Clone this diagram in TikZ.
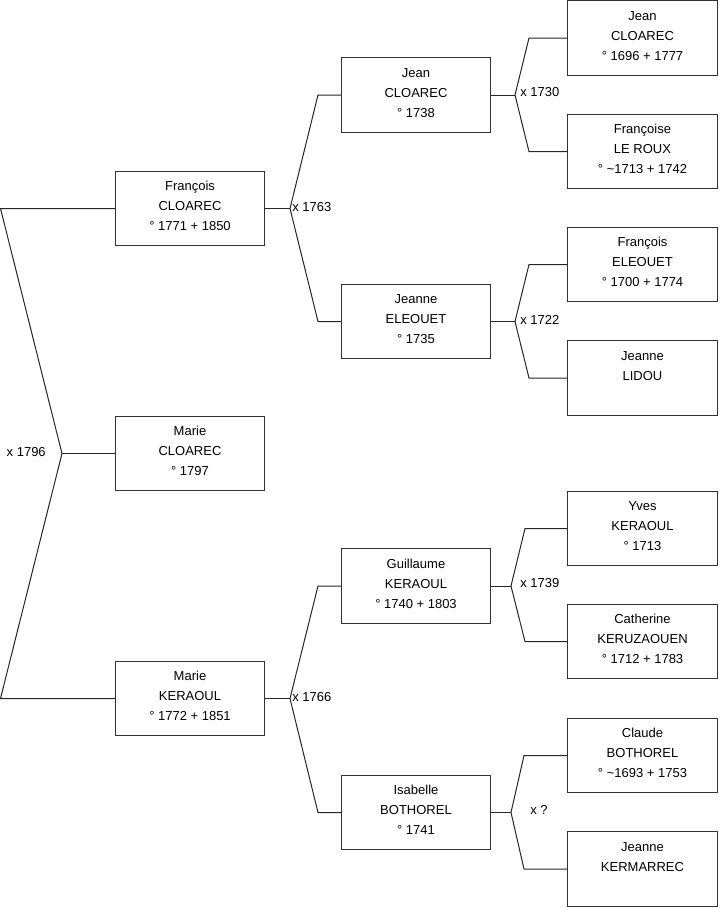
\documentclass[tikz,border=0pt]{standalone}
\usepackage{fontspec}
\setmainfont{Liberation Sans}
\begin{document}
\begin{tikzpicture}[x=0.75pt,y=-0.75pt,
  pbox/.style={draw=black!80,line width=0.8pt,minimum width=112pt,minimum height=56pt,
    align=center,inner sep=0pt,text depth=3.6pt,font=\fontsize{9.75}{15}\selectfont,fill=white},
  conn/.style={draw=black!85,line width=0.75pt},
  mlabel/.style={font=\fontsize{9.75}{15}\selectfont,inner sep=0pt}]
\useasboundingbox (0,0) rectangle (719,908);
% generation 1
\node[pbox] (fc) at (190,208.5) {François\\CLOAREC\\° 1771 + 1850};
\node[pbox] (mc) at (190,453.5) {Marie\\CLOAREC\\° 1797};
\node[pbox] (mk) at (190,698.5) {Marie\\KERAOUL\\° 1772 + 1851};
% generation 2
\node[pbox] (jc) at (416,95) {Jean\\CLOAREC\\° 1738};
\node[pbox] (je) at (416,321.5) {Jeanne\\ELEOUET\\° 1735};
\node[pbox] (gk) at (416,586) {Guillaume\\KERAOUL\\° 1740 + 1803};
\node[pbox] (ib) at (416,812.5) {Isabelle\\BOTHOREL\\° 1741};
% generation 3
\node[pbox] (jc2) at (642.5,38) {Jean\\CLOAREC\\° 1696 + 1777};
\node[pbox] (fl) at (642.5,151.5) {Françoise\\LE ROUX\\° \char`\~1713 + 1742};
\node[pbox] (fe) at (642.5,264.5) {François\\ELEOUET\\° 1700 + 1774};
\node[pbox] (jl) at (642.5,378) {Jeanne\\LIDOU\\\phantom{X}};
\node[pbox] (yk) at (642.5,528.5) {Yves\\KERAOUL\\° 1713};
\node[pbox] (ck) at (642.5,641.5) {Catherine\\KERUZAOUEN\\° 1712 + 1783};
\node[pbox] (cb) at (642.5,755.5) {Claude\\BOTHOREL\\° \char`\~1693 + 1753};
\node[pbox] (jk) at (642.5,869) {Jeanne\\KERMARREC\\\phantom{X}};
% level 0 connector
\coordinate (l1) at (0.5,208.5);
\coordinate (l2) at (0.5,698.5);
\coordinate (v0) at (62,453.5);
\draw[conn] (fc.west) -- (l1) -- (v0) -- (l2) -- (mk.west);
\draw[conn] (v0) -- (mc.west);
\node[mlabel,anchor=east] at (46,452.5) {x 1796};
% level 1 connectors
\coordinate (v1) at (290,208.5);
\coordinate (a1) at (318,95);
\coordinate (b1) at (318,321.5);
\draw[conn] (fc.east) -- (v1);
\draw[conn] (jc.west) -- (a1) -- (v1) -- (b1) -- (je.west);
\node[mlabel,anchor=west] at (292,207.5) {x 1763};
\coordinate (v2) at (290,698.5);
\coordinate (a2) at (318,586);
\coordinate (b2) at (318,812.5);
\draw[conn] (mk.east) -- (v2);
\draw[conn] (gk.west) -- (a2) -- (v2) -- (b2) -- (ib.west);
\node[mlabel,anchor=west] at (292,697.5) {x 1766};
% level 2 connectors
\coordinate (v3) at (515,95);
\coordinate (a3) at (529,38);
\coordinate (b3) at (529,151.5);
\draw[conn] (jc.east) -- (v3);
\draw[conn] (jc2.west) -- (a3) -- (v3) -- (b3) -- (fl.west);
\node[mlabel,anchor=west] at (520,92) {x 1730};
\coordinate (v4) at (515,321.5);
\coordinate (a4) at (529,264.5);
\coordinate (b4) at (529,378);
\draw[conn] (je.east) -- (v4);
\draw[conn] (fe.west) -- (a4) -- (v4) -- (b4) -- (jl.west);
\node[mlabel,anchor=west] at (520,319.5) {x 1722};
\coordinate (v5) at (511,586);
\coordinate (a5) at (525,528.5);
\coordinate (b5) at (525,641.5);
\draw[conn] (gk.east) -- (v5);
\draw[conn] (yk.west) -- (a5) -- (v5) -- (b5) -- (ck.west);
\node[mlabel,anchor=west] at (520,583) {x 1739};
\coordinate (v6) at (511,812.5);
\coordinate (a6) at (524,755.5);
\coordinate (b6) at (524,869);
\draw[conn] (ib.east) -- (v6);
\draw[conn] (cb.west) -- (a6) -- (v6) -- (b6) -- (jk.west);
\node[mlabel,anchor=west] at (530,810) {x ?};
\end{tikzpicture}
\end{document}
